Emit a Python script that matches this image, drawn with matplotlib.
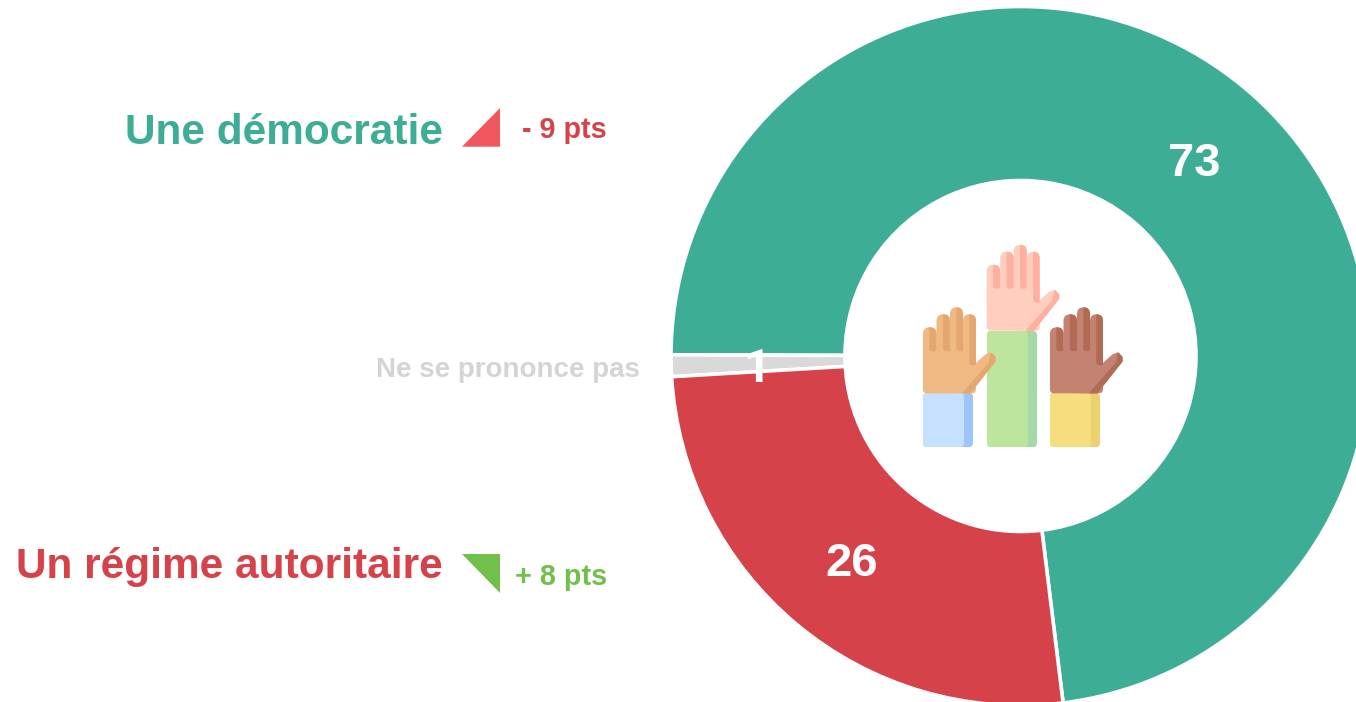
import matplotlib
matplotlib.use('Agg')
import matplotlib.pyplot as plt
from matplotlib.patches import FancyBboxPatch, Polygon

plt.rcParams['font.family'] = ['Liberation Sans', 'DejaVu Sans']

# donnees
categories = ['Une démocratie', 'Ne se prononce pas', 'Un régime autoritaire']
valeurs = [73, 1, 26]
evolutions = ['- 9 pts', None, '+ 8 pts']
couleurs = ['#3EAD96', '#D9D9D9', '#D64249']

H = 702


def py(y):
    # coordonnees image (y vers le bas) -> axes
    return H - y


def rond(ax, x0, y0, x1, y1, r, couleur, z):
    p = FancyBboxPatch((x0 + r, y0 + r), x1 - x0 - 2 * r, y1 - y0 - 2 * r,
                       boxstyle='round,pad=%f,rounding_size=%f' % (r, r),
                       fc=couleur, ec='none', zorder=z)
    ax.add_patch(p)
    return p


def main_levee(ax, x, y, base, ombre, z):
    # x, y = coin bas gauche de la main
    doigts = [(0, 13.5, 66), (13.5, 27, 79), (27, 40, 86), (40, 53, 79)]
    rond(ax, x, y, x + 53, y + 45, 4, base, z)
    for d0, d1, haut in doigts:
        doigt = rond(ax, x + d0, y + 20, x + d1, y + haut, 6.5, base, z)
        bas = 28 if d0 == 40 else 42
        trait = rond(ax, x + d0 + 6.3, y + bas, x + d0 + 14, y + haut + 3, 3.4, ombre, z + 0.1)
        trait.set_clip_path(doigt)
    pouce = [(x + 53, y + 29), (x + 63, y + 38), (x + 68, y + 40), (x + 71.5, y + 36),
             (x + 71.5, y + 32), (x + 47, y + 1), (x + 30, y + 1)]
    ax.add_patch(Polygon(pouce, closed=True, fc=base, ec=base, lw=1.5, joinstyle='round', zorder=z))
    reflet = [(x + 40, y + 0.5), (x + 47, y + 0.5), (x + 72, y + 32), (x + 72, y + 36),
              (x + 68.5, y + 40), (x + 66, y + 30)]
    ax.add_patch(Polygon(reflet, closed=True, fc=ombre, ec=ombre, lw=0.8, joinstyle='round', zorder=z + 0.1))


def manche(ax, x0, y_haut, couleur, ombre):
    rond(ax, x0, py(447), x0 + 50, py(y_haut), 4, ombre, 4)
    rond(ax, x0, py(447), x0 + 41, py(y_haut), 4, couleur, 4.1)


fig = plt.figure(figsize=(13.56, 7.02), dpi=100)
ax = fig.add_axes([0, 0, 1, 1])

ax.pie(valeurs, colors=couleurs, startangle=-83, counterclock=True,
       center=(1020.5, py(356)), radius=349.5,
       wedgeprops=dict(width=174, edgecolor='white', linewidth=2.6))

ax.set_xlim(0, 1356)
ax.set_ylim(0, H)
ax.set_aspect('equal')
ax.axis('off')

# chiffres dans l'anneau
ax.text(1194, py(176.5), str(valeurs[0]), color='white', fontsize=34, fontweight='bold', ha='center', va='baseline', zorder=10)
ax.text(757, py(382), str(valeurs[1]), color='white', fontsize=34, fontweight='bold', family='Roboto', ha='center', va='baseline', zorder=10)
ax.text(852, py(576.5), str(valeurs[2]), color='white', fontsize=34, fontweight='bold', ha='center', va='baseline', zorder=10)

# libelles
ax.text(443, py(144), categories[0], color=couleurs[0], fontsize=30.5, fontweight='bold', ha='right', va='baseline')
ax.text(443, py(578), categories[2], color=couleurs[2], fontsize=30.5, fontweight='bold', ha='right', va='baseline')
ax.text(640, py(377), categories[1], color='#D4D4D4', fontsize=20, fontweight='bold', ha='right', va='baseline')

ax.text(606.5, py(138), evolutions[0], color='#D64249', fontsize=20.7, fontweight='bold', ha='right', va='baseline')
ax.text(607.5, py(585), evolutions[2], color='#72C04C', fontsize=20.8, fontweight='bold', ha='right', va='baseline')

# triangles
ax.add_patch(Polygon([(462, py(146.7)), (500, py(108)), (500, py(146.7))], closed=True, fc='#F2575D', ec='none'))
ax.add_patch(Polygon([(462, py(554)), (500, py(554)), (500, py(592.7))], closed=True, fc='#72C04C', ec='none'))

# icone centrale
manche(ax, 923, 393, '#C5E1FF', '#9EC5FA')
manche(ax, 987, 331, '#BEE59E', '#A4D9A6')
manche(ax, 1050, 393, '#F6DD7E', '#EFD06E')
main_levee(ax, 986.7, py(330.7), '#FFCEBF', '#FFB09E', 5)
main_levee(ax, 923, py(393.3), '#F0B984', '#E3A76F', 6)
main_levee(ax, 1050, py(393.3), '#C48372', '#B16B55', 6)

fig.savefig('out.png', dpi=100)
